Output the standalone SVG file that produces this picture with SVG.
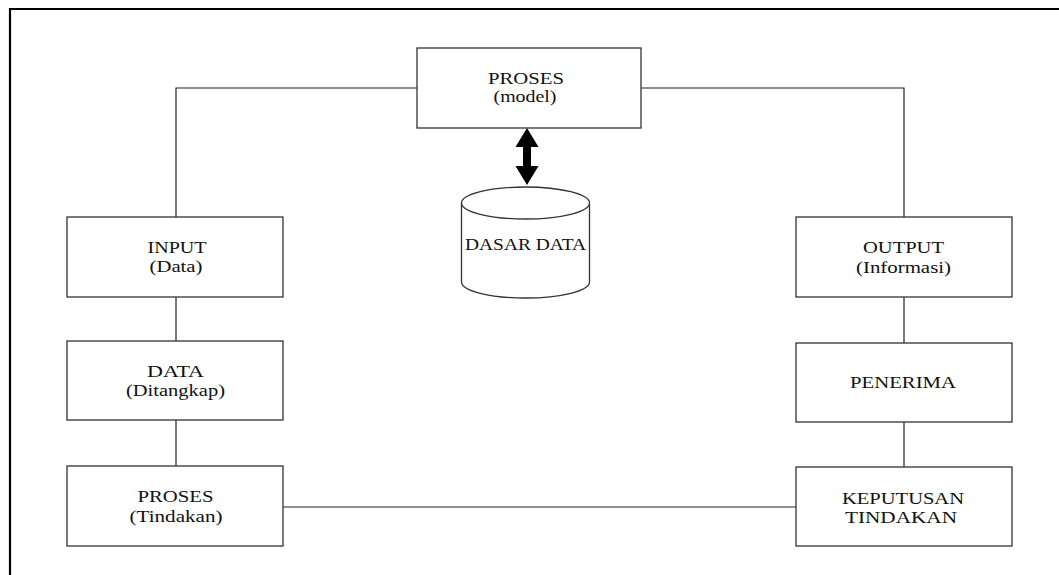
<svg xmlns="http://www.w3.org/2000/svg" width="1059" height="575" viewBox="0 0 1059 575">
<style>
.box{fill:#fff;stroke:#333;stroke-width:1.3}
.ln{fill:none;stroke:#222;stroke-width:1.2}
.t{font-family:"Liberation Serif","Times New Roman",serif;font-size:17px;fill:#111;text-anchor:middle}
</style>
<rect width="1059" height="575" fill="#fff"/>
<path d="M10 575 V9 H1059" fill="none" stroke="#000" stroke-width="2.2"/>
<g id="connectors">
<polyline class="ln" points="417,88 176,88 176,217"/>
<polyline class="ln" points="641,88 904,88 904,217"/>
<line class="ln" x1="176" y1="297" x2="176" y2="341"/>
<line class="ln" x1="176" y1="420" x2="176" y2="466"/>
<line class="ln" x1="283" y1="507" x2="796" y2="507"/>
<line class="ln" x1="904" y1="297" x2="904" y2="343"/>
<line class="ln" x1="904" y1="422" x2="904" y2="467"/>
<polygon points="527,128 538.5,147 531,147 531,166 538.5,166 527,185 515.5,166 523,166 523,147 515.5,147" fill="#000"/>
</g>
<g id="proses-model">
<rect class="box" x="417" y="48" width="224" height="80"/>
<text class="t" x="526" y="84" textLength="76" lengthAdjust="spacingAndGlyphs">PROSES</text>
<text class="t" x="525" y="102" textLength="63" lengthAdjust="spacingAndGlyphs">(model)</text>
</g>
<g id="dasar-data">
<path d="M461.5 203 V282 A64 16 0 0 0 589.5 282 V203" fill="#fff" stroke="#333" stroke-width="1.3"/>
<ellipse cx="525.5" cy="203" rx="64" ry="16" fill="#fff" stroke="#333" stroke-width="1.3"/>
<text class="t" x="525.5" y="250" textLength="121" lengthAdjust="spacingAndGlyphs">DASAR DATA</text>
</g>
<g id="input">
<rect class="box" x="67" y="217" width="216" height="80"/>
<text class="t" x="177" y="253" textLength="59" lengthAdjust="spacingAndGlyphs">INPUT</text>
<text class="t" x="176" y="271.5" textLength="53" lengthAdjust="spacingAndGlyphs">(Data)</text>
</g>
<g id="data">
<rect class="box" x="67" y="341" width="216" height="79"/>
<text class="t" x="175.5" y="376.5" textLength="57" lengthAdjust="spacingAndGlyphs">DATA</text>
<text class="t" x="175.5" y="396" textLength="99" lengthAdjust="spacingAndGlyphs">(Ditangkap)</text>
</g>
<g id="proses-tindakan">
<rect class="box" x="67" y="466" width="216" height="80"/>
<text class="t" x="175.5" y="502" textLength="76" lengthAdjust="spacingAndGlyphs">PROSES</text>
<text class="t" x="176" y="521.5" textLength="93" lengthAdjust="spacingAndGlyphs">(Tindakan)</text>
</g>
<g id="output">
<rect class="box" x="796" y="217" width="216" height="80"/>
<text class="t" x="903.5" y="253" textLength="81" lengthAdjust="spacingAndGlyphs">OUTPUT</text>
<text class="t" x="903.5" y="272.5" textLength="95" lengthAdjust="spacingAndGlyphs">(Informasi)</text>
</g>
<g id="penerima">
<rect class="box" x="796" y="343" width="216" height="79"/>
<text class="t" x="903" y="388" textLength="106" lengthAdjust="spacingAndGlyphs">PENERIMA</text>
</g>
<g id="keputusan">
<rect class="box" x="796" y="467" width="216" height="79"/>
<text class="t" x="903" y="503.5" textLength="122" lengthAdjust="spacingAndGlyphs">KEPUTUSAN</text>
<text class="t" x="901" y="522.5" textLength="112" lengthAdjust="spacingAndGlyphs">TINDAKAN</text>
</g>
</svg>
